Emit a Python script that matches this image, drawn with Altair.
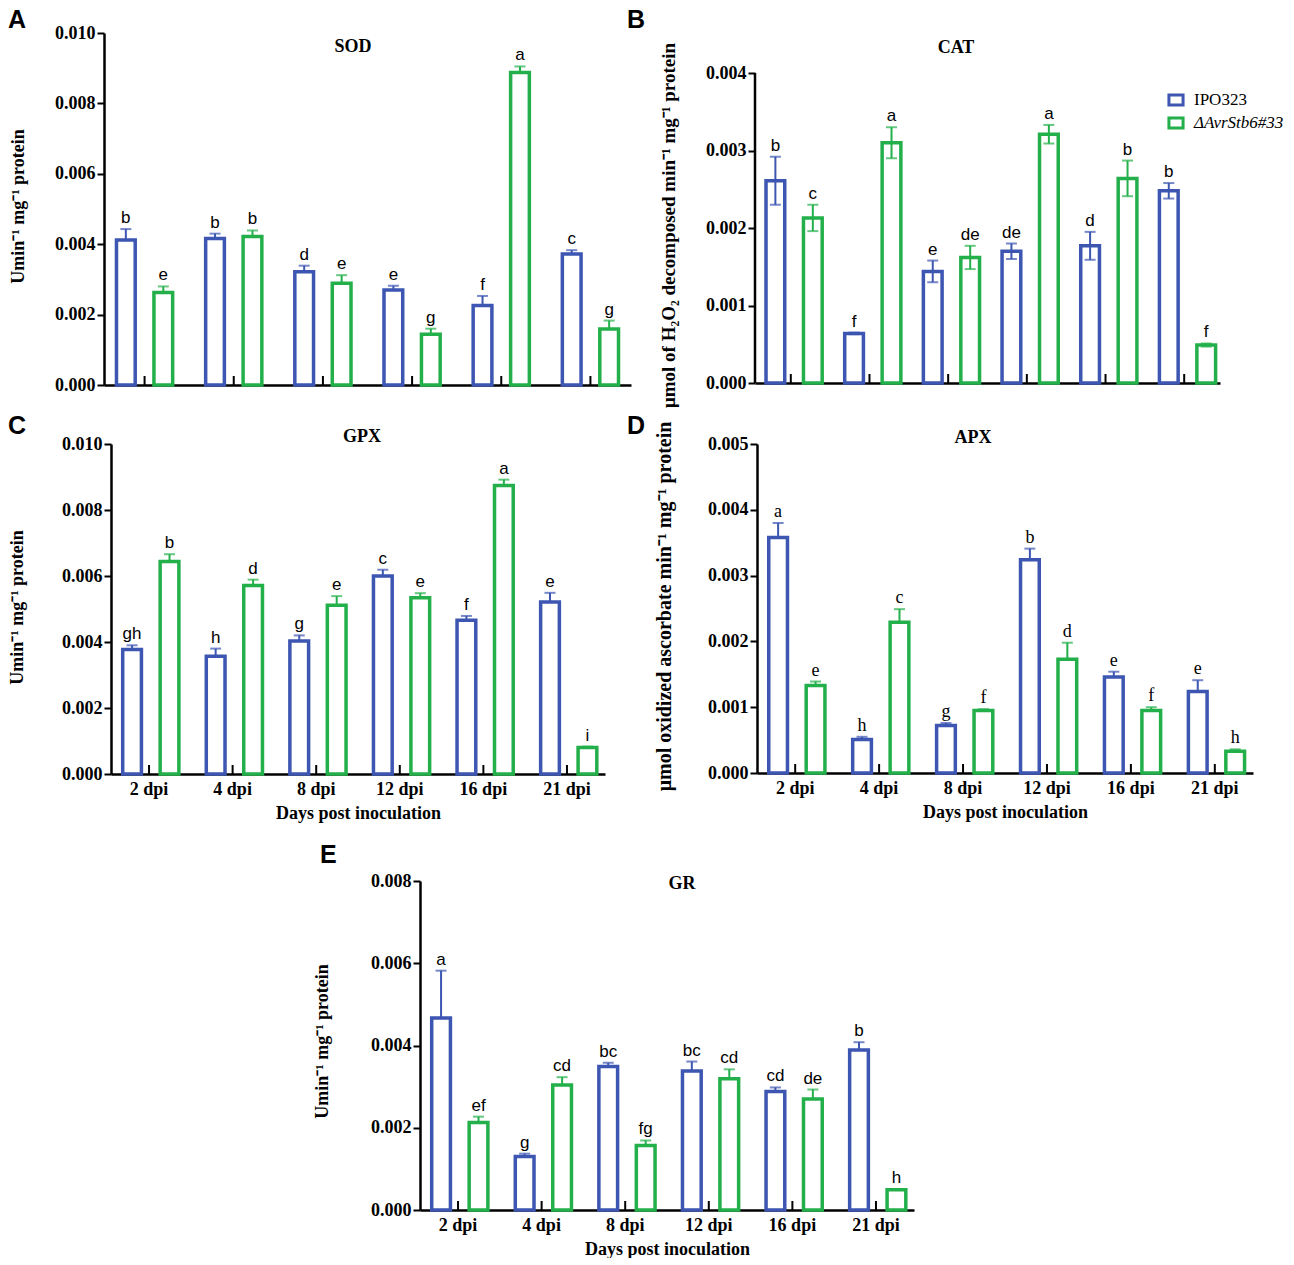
import altair as alt
import pandas as pd

DPI = ["2 dpi", "4 dpi", "8 dpi", "12 dpi", "16 dpi", "21 dpi"]
STRAINS = ["IPO323", "ΔAvrStb6#33"]
COLORS = ["#3D56B2", "#23B04B"]
LEGEND_STYLES = ["normal", "italic"]

# SOD
SOD_IPO = [0.00412, 0.00416, 0.00322, 0.00270, 0.00226, 0.00372]
SOD_IPO_ERR = [0.00031, 0.00014, 0.00017, 0.00012, 0.00027, 0.00011]
SOD_MUT = [0.00263, 0.00422, 0.00289, 0.00144, 0.00888, 0.00159]
SOD_MUT_ERR = [0.00017, 0.00017, 0.00023, 0.00016, 0.00017, 0.00024]
SOD_IPO_LET = ["b", "b", "d", "e", "f", "c"]
SOD_MUT_LET = ["e", "b", "e", "g", "a", "g"]
SOD_TICKS = [0.0, 0.002, 0.004, 0.006, 0.008, 0.010]

# CAT
CAT_IPO = [0.00261, 0.00064, 0.00144, 0.00170, 0.00177, 0.00248]
CAT_IPO_ERR = [0.00031, 0.00001, 0.00014, 0.00010, 0.00018, 0.00010]
CAT_MUT = [0.00213, 0.00310, 0.00162, 0.00321, 0.00264, 0.00049]
CAT_MUT_ERR = [0.00017, 0.00020, 0.00015, 0.00012, 0.00023, 0.00002]
CAT_IPO_LET = ["b", "f", "e", "de", "d", "b"]
CAT_MUT_LET = ["c", "a", "de", "a", "b", "f"]
CAT_TICKS = [0.0, 0.001, 0.002, 0.003, 0.004]

# GPX
GPX_IPO = [0.00377, 0.00357, 0.00403, 0.00600, 0.00466, 0.00521]
GPX_IPO_ERR = [0.00013, 0.00023, 0.00017, 0.00019, 0.00013, 0.00028]
GPX_MUT = [0.00644, 0.00571, 0.00511, 0.00534, 0.00874, 0.00080]
GPX_MUT_ERR = [0.00022, 0.00018, 0.00028, 0.00014, 0.00018, 0.00003]
GPX_IPO_LET = ["gh", "h", "g", "c", "f", "e"]
GPX_MUT_LET = ["b", "d", "e", "e", "a", "i"]
GPX_TICKS = [0.0, 0.002, 0.004, 0.006, 0.008, 0.010]

# APX
APX_IPO = [0.00358, 0.00051, 0.00072, 0.00324, 0.00146, 0.00124]
APX_IPO_ERR = [0.00022, 0.00004, 0.00004, 0.00017, 0.00008, 0.00017]
APX_MUT = [0.00133, 0.00229, 0.00095, 0.00173, 0.00095, 0.00033]
APX_MUT_ERR = [0.00006, 0.00020, 0.00002, 0.00025, 0.00005, 0.00003]
APX_IPO_LET = ["a", "h", "g", "b", "e", "e"]
APX_MUT_LET = ["e", "c", "f", "d", "f", "h"]
APX_TICKS = [0.0, 0.001, 0.002, 0.003, 0.004, 0.005]

# GR
GR_IPO = [0.00467, 0.00130, 0.00349, 0.00338, 0.00288, 0.00389]
GR_IPO_ERR = [0.00115, 0.00007, 0.00009, 0.00023, 0.00010, 0.00019]
GR_MUT = [0.00213, 0.00304, 0.00157, 0.00319, 0.00270, 0.00049]
GR_MUT_ERR = [0.00014, 0.00019, 0.00012, 0.00023, 0.00023, 0.00002]
GR_IPO_LET = ["a", "g", "bc", "bc", "cd", "b"]
GR_MUT_LET = ["ef", "cd", "fg", "cd", "de", "h"]
GR_TICKS = [0.0, 0.002, 0.004, 0.006, 0.008]

SERIF = "Liberation Serif"
SANS = "Liberation Sans"

Y_UMIN = "Umin\u207b\u00b9 mg\u207b\u00b9 protein"
Y_CAT = "\u03bcmol of H\u2082O\u2082 decomposed min\u207b\u00b9 mg\u207b\u00b9 protein"
Y_APX = "\u03bcmol oxidized ascorbate  min\u207b\u00b9 mg\u207b\u00b9 protein"


def spacer(w, h):
    return alt.Chart(pd.DataFrame({"s": [0]})).mark_point(opacity=0, size=1).encode(
        x=alt.value(0), y=alt.value(0)
    ).properties(width=w, height=h)


def panel(ipo, ipo_err, mut, mut_err, l_ipo, l_mut, ticks, w, h, title, tpos,
          letter, lpos, ytitle, ypos, yfs, show_x, both, tfont, tsize,
          legend=None, ymax=None):
    rows = []
    for s, m, e, l in ((STRAINS[0], ipo, ipo_err, l_ipo), (STRAINS[1], mut, mut_err, l_mut)):
        for d, mv, ev, lv in zip(DPI, m, e, l):
            rows.append({"dpi": d, "strain": s, "mean": mv,
                         "lo": (mv - ev) if both else mv, "hi": mv + ev, "letter": lv})
    df = pd.DataFrame(rows)
    top = ymax if ymax is not None else ticks[-1]
    own_domain = ymax is None

    xscale = alt.Scale(domain=DPI, paddingInner=0.37, paddingOuter=0.14)
    if show_x:
        xaxis = alt.Axis(labelAngle=0, ticks=False, labelPadding=6, labelFont=SERIF,
                         labelFontWeight="bold", labelFontSize=18, labelColor="black",
                         domainColor="black", domainWidth=2.5,
                         title="Days post inoculation", titleFont=SERIF,
                         titleFontWeight="bold", titleFontSize=18, titleColor="black",
                         titlePadding=6)
    else:
        xaxis = alt.Axis(labels=False, ticks=False, domainColor="black",
                         domainWidth=2.5, title="")
    yaxis = alt.Axis(values=ticks, format=".3f", tickSize=7, tickWidth=2,
                     tickColor="black", domain=own_domain, domainColor="black",
                     domainWidth=2.5,
                     labelFont=SERIF, labelFontWeight="bold", labelFontSize=18,
                     labelColor="black", labelPadding=2, grid=False,
                     title=ytitle, titleFont=SERIF, titleFontWeight="bold",
                     titleFontSize=yfs, titleColor="black", titleX=ypos[0],
                     titleY=ypos[1], titleAngle=270, titleAlign="center",
                     titleBaseline="middle")
    yscale = alt.Scale(domain=[0, top], nice=False, zero=True)
    cscale = alt.Scale(domain=STRAINS, range=COLORS)

    base = alt.Chart(df).encode(
        x=alt.X("dpi:N", sort=DPI, scale=xscale, axis=xaxis),
        xOffset=alt.XOffset("strain:N", sort=STRAINS,
                            scale=alt.Scale(domain=STRAINS, paddingInner=0.5)),
    )

    bars = base.mark_bar(fill="white", fillOpacity=1, strokeWidth=3.5).encode(
        y=alt.Y("mean:Q", scale=yscale, axis=yaxis),
        stroke=alt.Stroke("strain:N", scale=cscale, legend=None))
    layers = [bars]
    for s, c in zip(STRAINS, COLORS):
        sub = base.transform_filter(alt.datum.strain == s)
        layers.append(sub.mark_rule(strokeWidth=2, color=c).encode(y="lo:Q", y2="hi:Q"))
        layers.append(sub.mark_tick(thickness=2, size=11, color=c).encode(y="hi:Q"))
        if both:
            layers.append(sub.mark_tick(thickness=2, size=11, color=c).encode(y="lo:Q"))
    texts = base.mark_text(font=tfont, fontSize=tsize, color="black",
                           baseline="alphabetic", dy=-6).encode(
        y="hi:Q", text="letter:N")
    layers.append(texts)

    centers = alt.Chart(pd.DataFrame({"dpi": DPI})).mark_rule(
        color="black", strokeWidth=2).encode(
        x=alt.X("dpi:N", sort=DPI, scale=xscale, axis=xaxis),
        y=alt.value(h), y2=alt.value(h - 9))
    layers.append(centers)

    if not own_domain:
        yline = alt.Chart(pd.DataFrame({"a": [0]})).mark_rule(
            color="black", strokeWidth=2.5).encode(
            x=alt.value(0), y=alt.datum(0.0), y2=alt.datum(ticks[-1]))
        layers.append(yline)

    if legend is not None:
        lx, ly, gap = legend
        for i, (s, c, st) in enumerate(zip(STRAINS, COLORS, LEGEND_STYLES)):
            ldf = pd.DataFrame({"name": [s]})
            layers.append(alt.Chart(ldf).mark_point(
                shape="M-1,-0.72L1,-0.72L1,0.72L-1,0.72Z", size=200, filled=False,
                strokeWidth=3, color=c, opacity=1).encode(
                x=alt.value(lx), y=alt.value(ly + i * gap)))
            layers.append(alt.Chart(ldf).mark_text(
                font=SERIF, fontSize=17, fontStyle=st, color="black",
                align="left", baseline="middle").encode(
                text="name:N", x=alt.value(lx + 18), y=alt.value(ly + i * gap)))

    ttl = alt.Chart(pd.DataFrame({"t": [title]})).mark_text(
        font=SERIF, fontWeight="bold", fontSize=18, color="black",
        align="center", baseline="middle").encode(
        text="t:N", x=alt.value(tpos[0]), y=alt.value(tpos[1]))
    lab = alt.Chart(pd.DataFrame({"t": [letter]})).mark_text(
        font=SANS, fontWeight="bold", fontSize=25, color="black",
        align="left", baseline="top").encode(
        text="t:N", x=alt.value(lpos[0]), y=alt.value(lpos[1]))
    layers += [ttl, lab]
    return alt.layer(*layers).properties(width=w, height=h)


A = panel(SOD_IPO, SOD_IPO_ERR, SOD_MUT, SOD_MUT_ERR, SOD_IPO_LET, SOD_MUT_LET,
          SOD_TICKS, 527, 352, "SOD", (249, 14), "A", (-96, -25), Y_UMIN, (-86, 173), 18,
          False, False, SANS, 17)
B = panel(CAT_IPO, CAT_IPO_ERR, CAT_MUT, CAT_MUT_ERR, CAT_IPO_LET, CAT_MUT_LET,
          CAT_TICKS, 465, 350, "CAT", (201, 15), "B", (-128, -25), Y_CAT, (-87, 192), 19,
          False, True, SANS, 17, legend=(421, 67, 23), ymax=0.004 * 350 / 310)
C = panel(GPX_IPO, GPX_IPO_ERR, GPX_MUT, GPX_MUT_ERR, GPX_IPO_LET, GPX_MUT_LET,
          GPX_TICKS, 494, 330, "GPX", (251, -7), "C", (-103, -30), Y_UMIN, (-94, 163), 18,
          True, False, SANS, 17)
D = panel(APX_IPO, APX_IPO_ERR, APX_MUT, APX_MUT_ERR, APX_IPO_LET, APX_MUT_LET,
          APX_TICKS, 496, 329, "APX", (216, -6), "D", (-130, -30), Y_APX, (-93, 162), 20,
          True, False, SERIF, 18)
E = panel(GR_IPO, GR_IPO_ERR, GR_MUT, GR_MUT_ERR, GR_IPO_LET, GR_MUT_LET,
          GR_TICKS, 494, 329, "GR", (262, 3), "E", (-100, -38), Y_UMIN, (-98, 160), 18,
          True, False, SANS, 17)

row1 = alt.hconcat(A, spacer(124, 1), B, spacing=0, bounds="flush")
row2 = alt.hconcat(spacer(7, 1), C, spacer(152, 1), D, spacing=0, bounds="flush")
row3 = alt.hconcat(spacer(316, 1), E, spacing=0, bounds="flush")

chart = alt.vconcat(row1, spacer(1, 5), row2, spacer(1, 20), row3,
                    spacing=0).properties(
    padding=0, background="white"
).configure_view(strokeWidth=0)

chart.save("out.html", embed_options={"renderer": "svg", "actions": False})
